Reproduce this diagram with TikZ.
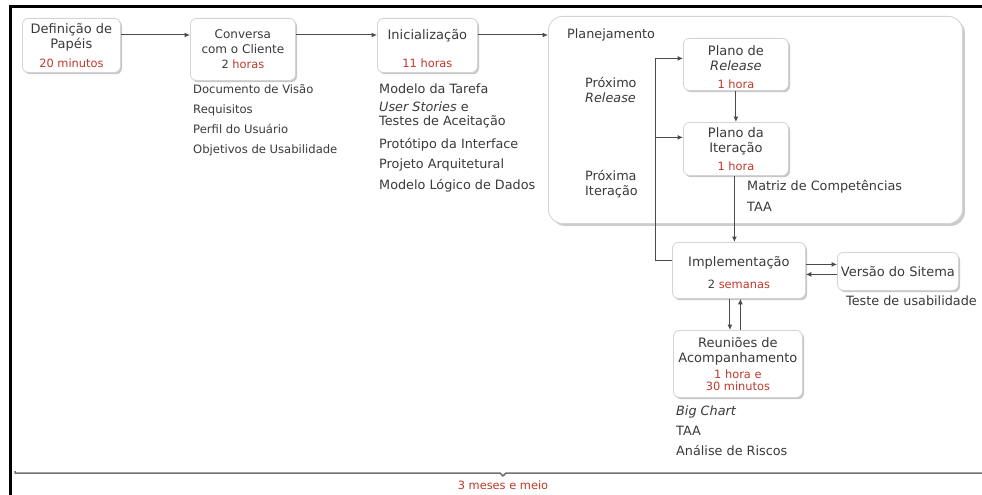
\documentclass[tikz,border=0pt]{standalone}
\usepackage{fontspec}
\setmainfont{DejaVu Sans}
\usetikzlibrary{arrows.meta,shadows,calc}

\definecolor{ink}{HTML}{3A3A3A}
\definecolor{timered}{HTML}{C0392B}
\definecolor{wire}{HTML}{4A4A4A}
\definecolor{boxline}{HTML}{D4D4D4}

% duration text inside the stage boxes
\newcommand\dur[1]{{\color{timered}\fontsize{11.4}{12.5}\selectfont #1}}

\tikzset{
  stagebox/.style={draw=boxline, line width=0.8pt, fill=white, rounded corners=6pt,
    drop shadow={shadow xshift=1.6pt, shadow yshift=-1.8pt, opacity=0.22, fill=black},
    align=center, text=ink, font=\fontsize{13}{15}\selectfont, inner sep=0pt,
    anchor=north west},
  planbox/.style={draw=boxline, line width=0.8pt, fill=white, rounded corners=14pt,
    drop shadow={shadow xshift=2.5pt, shadow yshift=-2.5pt, opacity=0.2, fill=black},
    inner sep=0pt, anchor=north west},
  itemtext/.style={anchor=west, inner sep=0pt, text=ink, font=\fontsize{12.8}{14}\selectfont,
    text height=9.5pt, text depth=3pt},
  smallitem/.style={itemtext, font=\fontsize{11.6}{13}\selectfont},
  wireline/.style={draw=wire, line width=1pt},
  arr/.style={wireline, -{Latex[length=5.5pt,width=5pt]}},
  timeline/.style={draw=black!55, line width=1.5pt, line join=round},
}

\begin{document}
\begin{tikzpicture}[x=1pt,y=-1pt]
\useasboundingbox (0,0) rectangle (982,495);
\fill[white] (0,0) rectangle (982,495);

% frame edges
\draw[line width=3pt] (10,495) -- (10,6.5) -- (982,6.5);

% stages along the top row
\node[stagebox, minimum width=98pt, minimum height=54pt] (def) at (22,18)
  {Definição de\\Papéis\\[4pt]\dur{20 minutos}};
\node[stagebox, font=\fontsize{12}{15}\selectfont, minimum width=105pt, minimum height=62pt] (conv) at (190,18)
  {Conversa\\com o Cliente\\\dur{{\color{ink}2} horas}};
\node[stagebox, minimum width=100pt, minimum height=54pt] (ini) at (377,18)
  {\rule{0pt}{16pt}Inicialização\\[13pt]\dur{11 horas}};

% planning container
\node[planbox, minimum width=414pt, minimum height=207pt] (plan) at (548,16) {};
\node[itemtext] (planlbl) at (567,35) {Planejamento};

\node[stagebox, minimum width=105pt, minimum height=52pt] (rel) at (683,38)
  {\rule{0pt}{15pt}Plano de\\\textit{Release}\\[3pt]\dur{1 hora}};
\node[stagebox, minimum width=105pt, minimum height=53pt] (iter) at (683,122)
  {Plano da\\Iteração\\[3pt]\dur{1 hora}};

\node[itemtext] (nr1) at (585,84) {Próximo};
\node[itemtext] (nr2) at (585,99) {\textit{Release}};
\node[itemtext] (ni1) at (585,177) {Próxima};
\node[itemtext] (ni2) at (585,192) {Iteração};
\node[itemtext] (mc) at (747,187) {Matriz de Competências};
\node[itemtext] (taa1) at (747,208) {TAA};

% execution
\node[stagebox, minimum width=133pt, minimum height=56pt] (impl) at (672,242)
  {\rule{0pt}{14pt}Implementação\\[7pt]\dur{{\color{ink}2} semanas}};
\node[stagebox, minimum width=121pt, minimum height=38pt] (vers) at (837,252)
  {Versão do Sitema};
\node[stagebox, minimum width=129pt, minimum height=67pt] (reun) at (673,330)
  {Reuniões de\\Acompanhamento\\[1pt]\dur{1 hora e}\\[-3pt]\dur{30 minutos}};

\node[itemtext] (tu) at (846,302) {Teste de usabilidade};

% artefacts
\node[smallitem] (c1) at (193,90) {Documento de Visão};
\node[smallitem] (c2) at (193,110) {Requisitos};
\node[smallitem] (c3) at (193,130) {Perfil do Usuário};
\node[smallitem] (c4) at (193,150) {Objetivos de Usabilidade};

\node[itemtext] (i1) at (379,90) {Modelo da Tarefa};
\node[itemtext] (i2) at (379,108) {\textit{User Stories} e};
\node[itemtext] (i3) at (379,122) {Testes de Aceitação};
\node[itemtext] (i4) at (379,145) {Protótipo da Interface};
\node[itemtext] (i5) at (379,165) {Projeto Arquitetural};
\node[itemtext] (i6) at (379,186) {Modelo Lógico de Dados};

\node[itemtext] (r1) at (676,412) {\textit{Big Chart}};
\node[itemtext] (r2) at (676,432) {TAA};
\node[itemtext] (r3) at (676,452) {Análise de Riscos};

% main flow
\coordinate (row) at (0,35);
\draw[arr] (def.east |- row) -- (conv.west |- row);
\draw[arr] (conv.east |- row) -- (ini.west |- row);
\draw[arr] (ini.east |- row) -- (plan.west |- row);

% feedback loop back into planning
\coordinate (relin) at ($(rel.west)+(0,-6)$);
\coordinate (iterin) at ($(iter.west)+(0,-11.5)$);
\coordinate (implout) at ($(impl.west)+(0,-10)$);
\coordinate (lb) at ($(implout)+(-17,0)$);
\draw[wireline] (implout) -- (lb) -- (lb |- relin);
\draw[arr] (lb |- relin) -- (relin);
\draw[arr] (lb |- iterin) -- (iterin);

\draw[arr] (rel.south) -- (iter.north);
\coordinate (ib) at ($(iter.south)+(-1.5,0)$);
\draw[arr] (ib) -- (ib |- impl.north);

% implementation <-> system version
\coordinate (vt) at ($(vers.west)+(0,-7)$);
\coordinate (vb) at ($(vers.west)+(0,3)$);
\draw[arr] (impl.east |- vt) -- (vt);
\draw[arr] (vb) -- (impl.east |- vb);

% implementation <-> follow-up meetings
\coordinate (rd) at ($(reun.north)+(-8,0)$);
\coordinate (ru) at ($(reun.north)+(2.5,0)$);
\draw[arr] (impl.south -| rd) -- (rd);
\draw[arr] (ru) -- (impl.south -| ru);

% overall time span
\coordinate (tl) at (15,473);
\coordinate (tm) at (503,473);
\coordinate (tr) at (982,473);
\draw[timeline] ($(tl)+(0,-2)$) -- (tl) -- ($(tm)+(-3,0)$) -- ($(tm)+(0,3)$) -- ($(tm)+(3,0)$) -- (tr);
\node[inner sep=0pt, text=timered, font=\fontsize{11.4}{13}\selectfont] (span) at (503,485) {3 meses e meio};
\end{tikzpicture}
\end{document}
